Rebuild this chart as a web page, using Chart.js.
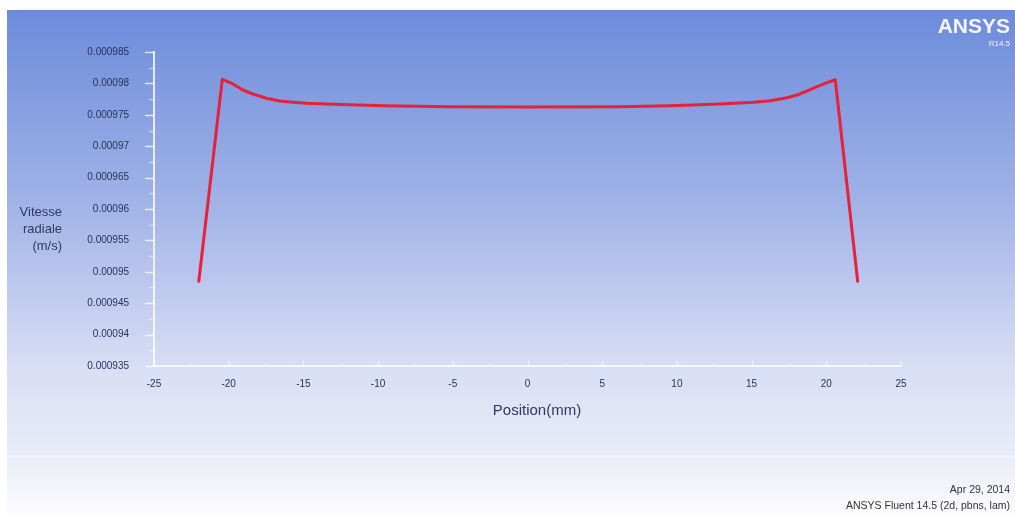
<!DOCTYPE html>
<html>
<head>
<meta charset="utf-8">
<script src="https://cdn.jsdelivr.net/npm/chart.js@4/dist/chart.umd.min.js"></script>
<style>
  html, body { margin: 0; padding: 0; background: #fff; }
  #wrap { width: 1015px; height: 515px; position: relative; }
</style>
</head>
<body>
<div id="wrap"><canvas id="chart-line" width="1015" height="515"></canvas></div>
<script>
// profil de vitesse radiale
const positions = [-22.0, -20.43, -19.72, -19.05, -18.38, -17.48, -16.59, -15.92, -14.8, -13.02, -9.66, -5.19, 0,
                   6.2, 9.55, 12.9, 15.13, 16.25, 17.37, 18.04, 18.71, 19.38, 20.05, 20.6, 22.1];
const vitesses = [0.0009485, 0.00098065, 0.00097991, 0.00097895, 0.00097831, 0.00097763, 0.0009772, 0.00097704,
                  0.00097683, 0.00097667, 0.00097645, 0.00097629, 0.00097624,
                  0.00097629, 0.00097645, 0.00097672, 0.00097699, 0.00097725, 0.00097772, 0.00097815, 0.00097879,
                  0.00097947, 0.00098011, 0.00098058, 0.0009485];
const xTicks = [-25, -20, -15, -10, -5, 0, 5, 10, 15, 20, 25];
const yTicks = [0.000935, 0.00094, 0.000945, 0.00095, 0.000955, 0.00096, 0.000965, 0.00097, 0.000975, 0.00098, 0.000985];

const fond = {
    id: 'fond',
    beforeDraw(chart) {
        const c = chart.ctx;
        c.save();
        c.fillStyle = '#ffffff';
        c.fillRect(0, 0, chart.width, chart.height);
        let g = c.createLinearGradient(0, 10, 0, 515);
        g.addColorStop(0, '#6c8bda');
        g.addColorStop(0.40, '#a3b5e8');
        g.addColorStop(0.71, '#d8def4');
        g.addColorStop(0.88, '#e9ecf8');
        g.addColorStop(1, '#fcfcfe');
        c.fillStyle = g;
        c.fillRect(7, 10, chart.width - 7, 505);
        c.fillStyle = 'rgba(255,255,255,0.3)';
        c.fillRect(7, 455, chart.width - 7, 3);
        c.restore();
    },
    afterDraw(chart) {
        const c = chart.ctx;
        const sx = chart.scales.x, sy = chart.scales.y;
        c.save();
        c.lineWidth = 1.5;
        // graduations axe y
        for (let i = 0; i <= 20; i++) {
            const v = 0.000935 + i * 0.0000025;
            const py = Math.round(sy.getPixelForValue(v)) + 0.5;
            const major = i % 2 === 0;
            c.strokeStyle = major ? 'rgba(255,255,255,0.75)' : 'rgba(255,255,255,0.45)';
            const len = major ? 9 : 5;
            c.beginPath();
            c.moveTo(sx.left - len, py);
            c.lineTo(sx.left, py);
            c.stroke();
        }
        // graduations axe x
        for (let i = 0; i <= 20; i++) {
            const px = Math.round(sx.getPixelForValue(-25 + i * 2.5)) + 0.5;
            const major = i % 2 === 0;
            c.strokeStyle = major ? 'rgba(255,255,255,0.6)' : 'rgba(255,255,255,0.35)';
            const len = major ? 5 : 3;
            c.beginPath();
            c.moveTo(px, sy.bottom);
            c.lineTo(px, sy.bottom - len);
            c.stroke();
        }
        // titre axe y
        c.fillStyle = '#2f3a5e';
        c.font = '13px "Liberation Sans", Arial, sans-serif';
        c.textAlign = 'right';
        c.textBaseline = 'middle';
        c.fillText('Vitesse', 62, 212);
        c.fillText('radiale', 62, 229);
        c.fillText('(m/s)', 62, 246);
        // titre axe x
        c.textAlign = 'center';
        c.font = '15px "Liberation Sans", Arial, sans-serif';
        c.fillText('Position(mm)', 537, 411);
        // logo
        c.fillStyle = 'rgba(255,255,255,0.92)';
        c.textAlign = 'right';
        c.font = 'bold 21px "Liberation Sans Narrow", "Liberation Sans", Arial, sans-serif';
        c.fillText('ANSYS', 1010, 27);
        c.font = '8px "Liberation Sans", Arial, sans-serif';
        c.fillText('R14.5', 1010, 44);
        // pied de page
        c.fillStyle = '#333333';
        c.font = '10.5px "Liberation Sans Narrow", "Liberation Sans", Arial, sans-serif';
        c.fillText('Apr 29, 2014', 1010, 490);
        c.fillText('ANSYS Fluent 14.5 (2d, pbns, lam)', 1010, 506);
        c.restore();
    }
};

let ctx = document.getElementById('chart-line').getContext('2d');

new Chart(ctx, {
    type: 'scatter',
    data: {
        datasets: [{
            label: 'Vitesse radiale',
            data: positions.map((p, i) => ({ x: p, y: vitesses[i] })),
            showLine: true,
            tension: 0,
            borderColor: '#e8213b',
            borderWidth: 3,
            pointRadius: 0,
            borderJoinStyle: 'round',
            borderCapStyle: 'round'
        }]
    },
    options: {
        responsive: false,
        animation: false,
        devicePixelRatio: 1,
        layout: { padding: { left: 0, top: 52, right: 114, bottom: 0 } },
        plugins: {
            legend: { display: false },
            tooltip: { enabled: false }
        },
        scales: {
            x: {
                type: 'linear',
                min: -25,
                max: 25,
                afterBuildTicks: (s) => { s.ticks = xTicks.map(v => ({ value: v })); },
                afterFit: (s) => { s.height = 149; },
                border: { display: true, color: 'rgba(255,255,255,0.8)', width: 2 },
                grid: { display: false, drawTicks: false },
                ticks: {
                    color: '#27325a',
                    padding: 12,
                    maxRotation: 0,
                    autoSkip: false,
                    font: { size: 10, family: '"Liberation Sans Narrow", "Liberation Sans", Arial' }
                }
            },
            y: {
                type: 'linear',
                min: 0.000935,
                max: 0.000985,
                afterBuildTicks: (s) => { s.ticks = yTicks.map(v => ({ value: v })); },
                afterFit: (s) => { s.width = 154; },
                border: { display: true, color: 'rgba(255,255,255,0.8)', width: 2 },
                grid: { display: false, drawTicks: false },
                ticks: {
                    color: '#27325a',
                    padding: 25,
                    autoSkip: false,
                    callback: (v) => Number(v.toFixed(7)).toString(),
                    font: { size: 10, family: '"Liberation Sans Narrow", "Liberation Sans", Arial' }
                }
            }
        }
    },
    plugins: [fond]
});
</script>
</body>
</html>
